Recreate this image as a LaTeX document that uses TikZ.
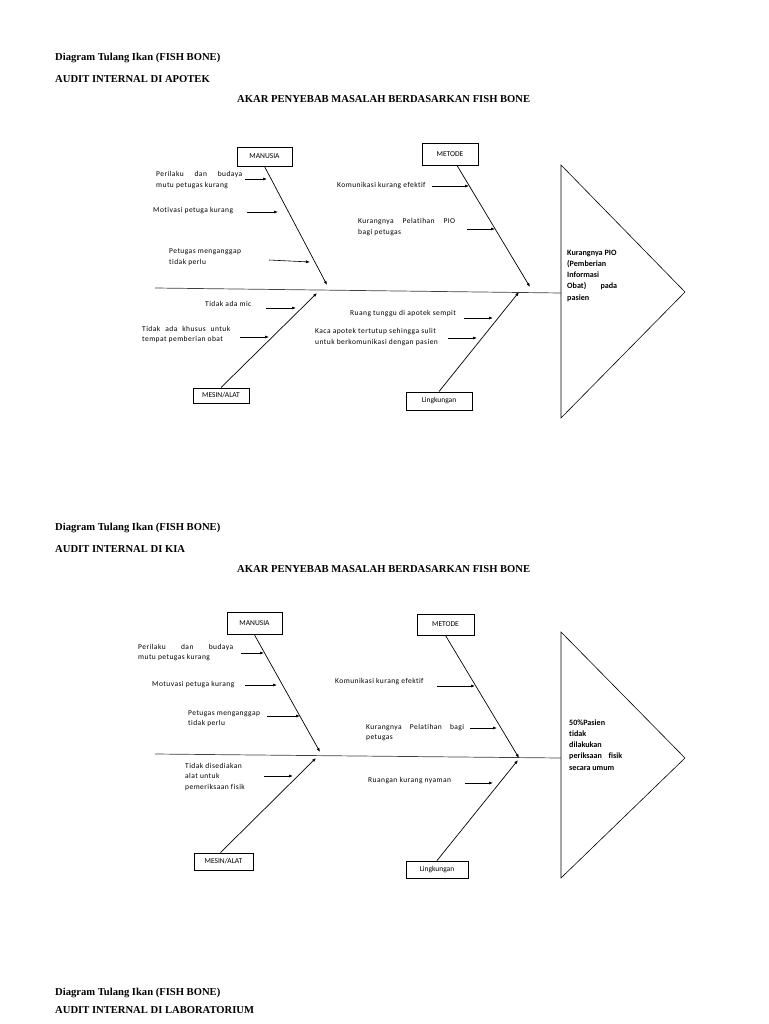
\documentclass[tikz,border=0pt]{standalone}
\usepackage{fontspec}
\setmainfont{Liberation Serif}
\newfontfamily\calfont[LetterSpace=6,Ligatures=NoCommon]{Carlito}
\newfontfamily\calbox[Ligatures=NoCommon]{Carlito}
\usetikzlibrary{arrows.meta}
\newcommand{\sj}[2]{\makebox[#1][s]{#2}}
\tikzset{
 ttl/.style={anchor=west, inner sep=0pt, font=\bfseries\fontsize{10.6}{12}\selectfont},
 lbl/.style={anchor=base west, inner sep=0pt, align=left, font=\calfont\fontsize{7.5}{11}\selectfont},
 cat/.style={draw, line width=0.9pt, inner sep=0pt, font=\calbox\fontsize{7.5}{8}\selectfont},
 head/.style={anchor=base west, inner sep=0pt, align=left, font=\calbox\bfseries\fontsize{8.1}{11.25}\selectfont},
 bone/.style={line width=0.7pt, -{Latex[length=4pt,width=3pt]}},
 sub/.style={line width=0.6pt, -{Latex[length=4pt,width=3pt]}},
 spine/.style={line width=0.7pt, draw=black!75},
 fish/.style={line width=0.6pt},
}
\begin{document}
\begin{tikzpicture}[x=1pt,y=-1pt]
\fill[white] (0,0) rectangle (768,1024);
\useasboundingbox (0,0) rectangle (768,1024);

% ---------------- Diagram 1 ----------------
\node[ttl] (t1a) at (55,58) {Diagram Tulang Ikan (FISH BONE)};
\node[ttl] (t1b) at (55,79) {AUDIT INTERNAL DI APOTEK};
\node[ttl] (t1c) at (237,99) {AKAR PENYEBAB MASALAH BERDASARKAN FISH BONE};

\coordinate (h1t) at (561,165);
\coordinate (h1b) at (561,418);
\coordinate (h1p) at (685,292);
\draw[fish] (h1t) -- (h1p) -- (h1b) -- cycle;
\coordinate (s1a) at (155,288);
\coordinate (s1b) at (561,293);
\draw[spine] (s1a) -- (s1b);

\node[cat, minimum width=55pt, minimum height=19pt] (m1) at (264.5,156.5) {MANUSIA};
\node[cat, minimum width=56pt, minimum height=22pt] (me1) at (450,154) {METODE};
\node[cat, minimum width=56pt, minimum height=15pt] (ms1) at (221,395.5) {MESIN/ALAT};
\node[cat, minimum width=66pt, minimum height=18pt] (l1) at (439,401) {Lingkungan};

\coordinate (m1e) at (327,285);
\coordinate (me1e) at (530,287);
\coordinate (ms1e) at (317,293);
\coordinate (l1e) at (519,292);
\draw[bone] (m1.south) -- (m1e);
\draw[bone] ([xshift=7pt]me1.south) -- (me1e);
\draw[bone] (ms1.north) -- (ms1e);
\draw[bone] (l1.north) -- (l1e);

\node[lbl] (c11) at (156,188) {\sj{86pt}{Perilaku dan budaya}\\mutu petugas kurang};
\coordinate (a11s) at (245,179); \coordinate (a11e) at (267,179);
\draw[sub] (a11s) -- (a11e);
\node[lbl] (c12) at (153,213) {Motivasi petuga kurang};
\coordinate (a12s) at (247,212); \coordinate (a12e) at (278,212);
\draw[sub] (a12s) -- (a12e);
\node[lbl] (c13) at (169,264) {Petugas menganggap\\tidak perlu};
\coordinate (a13s) at (269,260); \coordinate (a13e) at (310,262);
\draw[sub] (a13s) -- (a13e);
\node[lbl] (c14) at (337,188) {Komunikasi kurang efektif};
\coordinate (a14s) at (432,186); \coordinate (a14e) at (469,186);
\draw[sub] (a14s) -- (a14e);
\node[lbl] (c15) at (358,235) {\sj{97pt}{Kurangnya Pelatihan PIO}\\bagi petugas};
\coordinate (a15s) at (467,229); \coordinate (a15e) at (495,229);
\draw[sub] (a15s) -- (a15e);
\node[lbl] (c16) at (205,306) {Tidak ada mic};
\coordinate (a16s) at (266,308); \coordinate (a16e) at (296,308);
\draw[sub] (a16s) -- (a16e);
\node[lbl, font=\calfont\fontsize{7.5}{10}\selectfont] (c17) at (142,341) {\sj{88pt}{Tidak ada khusus untuk}\\tempat pemberian obat};
\coordinate (a17s) at (240,337); \coordinate (a17e) at (269,337);
\draw[sub] (a17s) -- (a17e);
\node[lbl] (c18) at (350,315) {Ruang tunggu di apotek sempit};
\coordinate (a18s) at (464,318); \coordinate (a18e) at (493,318);
\draw[sub] (a18s) -- (a18e);
\node[lbl] (c19) at (315,344) {Kaca apotek tertutup sehingga sulit\\untuk berkomunikasi dengan pasien};
\coordinate (a19s) at (448,338); \coordinate (a19e) at (477,338);
\draw[sub] (a19s) -- (a19e);

\node[head] (h1) at (567,300) {Kurangnya PIO\\(Pemberian\\Informasi\\\sj{50pt}{Obat) pada}\\pasien};

% ---------------- Diagram 2 ----------------
\node[ttl] (t2a) at (55,528) {Diagram Tulang Ikan (FISH BONE)};
\node[ttl] (t2b) at (55,549) {AUDIT INTERNAL DI KIA};
\node[ttl] (t2c) at (237,569) {AKAR PENYEBAB MASALAH BERDASARKAN FISH BONE};

\coordinate (h2t) at (561,632);
\coordinate (h2b) at (561,878);
\coordinate (h2p) at (685,758);
\draw[fish] (h2t) -- (h2p) -- (h2b) -- cycle;
\coordinate (s2a) at (155,754);
\coordinate (s2b) at (561,758);
\draw[spine] (s2a) -- (s2b);

\node[cat, minimum width=55pt, minimum height=22pt] (m2) at (254.5,623.5) {MANUSIA};
\node[cat, minimum width=57pt, minimum height=21pt] (me2) at (445.5,624.5) {METODE};
\node[cat, minimum width=59pt, minimum height=17pt] (ms2) at (223.5,861.5) {MESIN/ALAT};
\node[cat, minimum width=62pt, minimum height=17pt] (l2) at (437,869.5) {Lingkungan};

\coordinate (m2e) at (320,752);
\coordinate (me2e) at (519,758);
\coordinate (ms2e) at (316,758);
\coordinate (l2e) at (518,760);
\draw[bone] (m2.south) -- (m2e);
\draw[bone] (me2.south) -- (me2e);
\draw[bone] ([xshift=-3pt]ms2.north) -- (ms2e);
\draw[bone] (l2.north) -- (l2e);

\node[lbl, font=\calfont\fontsize{7.5}{10}\selectfont] (c21) at (138,659) {\sj{95pt}{Perilaku dan budaya}\\mutu petugas kurang};
\coordinate (a21s) at (241,653); \coordinate (a21e) at (264,653);
\draw[sub] (a21s) -- (a21e);
\node[lbl] (c22) at (152,686) {Motuvasi petuga kurang};
\coordinate (a22s) at (245,685); \coordinate (a22e) at (277,685);
\draw[sub] (a22s) -- (a22e);
\node[lbl, font=\calfont\fontsize{7.5}{10}\selectfont] (c23) at (188,725) {Petugas menganggap\\tidak perlu};
\coordinate (a23s) at (267,716); \coordinate (a23e) at (300,716);
\draw[sub] (a23s) -- (a23e);
\node[lbl] (c24) at (335,683) {Komunikasi kurang efektif};
\coordinate (a24s) at (437,686); \coordinate (a24e) at (475,686);
\draw[sub] (a24s) -- (a24e);
\node[lbl, font=\calfont\fontsize{7.5}{10}\selectfont] (c25) at (366,739) {\sj{98pt}{Kurangnya Pelatihan bagi}\\petugas};
\coordinate (a25s) at (470,728); \coordinate (a25e) at (497,728);
\draw[sub] (a25s) -- (a25e);
\node[lbl] (c26) at (368,782) {Ruangan kurang nyaman};
\coordinate (a26s) at (465,783); \coordinate (a26e) at (493,783);
\draw[sub] (a26s) -- (a26e);
\node[lbl, font=\calfont\fontsize{7.5}{10.5}\selectfont] (c27) at (185,789) {Tidak disediakan\\alat untuk\\pemeriksaan fisik};
\coordinate (a27s) at (264,776); \coordinate (a27e) at (293,776);
\draw[sub] (a27s) -- (a27e);

\node[head] (h2) at (569,770) {50\%Pasien\\tidak\\dilakukan\\\sj{53pt}{periksaan fisik}\\secara umum};

% ---------------- Diagram 3 (titles) ----------------
\node[ttl] (t3a) at (55,993) {Diagram Tulang Ikan (FISH BONE)};
\node[ttl] (t3b) at (55,1010) {AUDIT INTERNAL DI LABORATORIUM};
\end{tikzpicture}
\end{document}
